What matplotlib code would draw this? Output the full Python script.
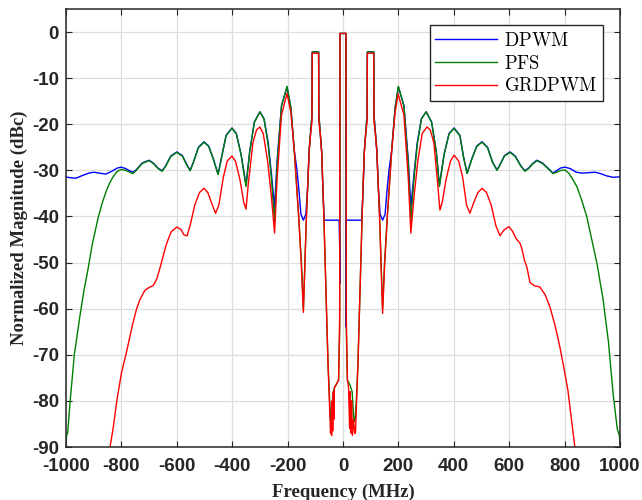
import matplotlib
matplotlib.use("Agg")
import matplotlib.pyplot as plt

plt.rcParams['axes.unicode_minus'] = False
plt.rcParams['mathtext.fontset'] = 'cm'

# DPWM spectrum (MHz, dBc)
dpwm_f = [-1000, -985, -964, -940, -918, -899, -880, -856, -835, -815, -801, -785, -770, -758,
          -745, -725, -700, -685, -668, -653, -640, -622, -600, -580, -565, -552, -540, -522,
          -502, -485, -468, -451, -438, -422, -401, -385, -368, -350, -337, -320, -300, -285,
          -270, -258, -247, -238, -222, -202, -188, -176, -166, -158, -152, -143, -134, -128,
          -122, -116, -112, -111, -88, -87, -82, -77, -72, -68, -14, -12, -11.5, -11,
          10, 10.5, 11, 12, 68, 72, 77, 82, 87, 88,
          111, 112, 116, 122, 128, 134, 143, 152, 158, 166, 176, 188, 200, 220, 236, 245,
          256, 268, 283, 300, 320, 337, 348, 365, 383, 401, 422, 435, 448, 465, 483, 502,
          522, 540, 556, 568, 583, 603, 622, 642, 657, 670, 685, 700, 720, 745, 758, 770,
          785, 801, 820, 842, 863, 885, 910, 930, 952, 975, 1000]
dpwm_v = [-31.4, -31.6, -31.7, -31.1, -30.6, -30.4, -30.6, -30.8, -30.2, -29.5, -29.3, -29.6, -30.1, -30.4,
          -29.8, -28.4, -27.8, -28.4, -29.5, -30.1, -29.0, -26.9, -26.0, -26.8, -28.6, -30.0, -28.2, -25.0,
          -23.8, -24.7, -27.5, -30.8, -27.0, -22.4, -20.8, -22.0, -26.5, -33.2, -26.0, -19.5, -17.3, -18.8,
          -24.0, -31.0, -38.0, -28.0, -16.0, -11.9, -16.5, -25.6, -30.0, -35.0, -39.5, -40.8, -39.5, -34.0,
          -25.6, -21.0, -18.0, -4.3, -4.3, -18.0, -22.0, -26.0, -35.0, -40.8, -40.8, -46.6, -54.5, -0.3,
          -0.3, -32.8, -64.0, -40.8, -40.8, -35.0, -26.0, -22.0, -18.0, -4.3,
          -4.3, -18.0, -21.0, -25.6, -34.0, -39.5, -40.8, -39.5, -35.0, -30.0, -25.6, -16.5, -11.9, -16.0, -28.0, -38.0,
          -31.0, -24.0, -18.8, -17.3, -19.5, -26.0, -33.2, -26.5, -22.0, -20.8, -22.4, -27.0, -30.6, -27.5, -24.7, -23.8,
          -25.0, -28.2, -29.9, -28.6, -26.8, -26.0, -26.9, -29.0, -30.1, -29.5, -28.5, -27.8, -28.4, -29.8, -30.6, -30.1,
          -29.5, -29.3, -29.6, -30.4, -30.6, -30.5, -30.4, -30.7, -31.2, -31.5, -31.4]

# PFS spectrum
pfs_f = [-1000, -998, -994, -985, -970, -950, -935, -921, -905, -884, -870, -856, -843, -830,
         -815, -801, -785, -770, -758, -745, -725, -700, -685, -668, -653, -640, -622, -600,
         -580, -565, -552, -540, -522, -502, -485, -468, -451, -438, -422, -401, -385, -368,
         -350, -337, -320, -300, -285, -270, -258, -247, -238, -222, -202, -188, -176, -160,
         -150, -143, -132, -122, -116, -112, -111, -88, -87, -82, -77, -70, -62, -54, -48,
         -44, -40, -37, -33, -25, -16, -12, -11,
         11, 12, 16, 25, 33, 37, 40, 44, 48, 54, 62, 70, 77, 82, 87, 88,
         111, 112, 116, 122, 132, 143, 150, 160, 176, 188, 200, 220, 236, 245, 256, 268,
         283, 300, 320, 337, 348, 365, 383, 401, 422, 435, 448, 465, 483, 502, 522, 540,
         556, 568, 583, 603, 622, 642, 657, 670, 685, 700, 720, 745, 758, 772, 787, 801,
         815, 830, 845, 862, 880, 900, 917, 939, 958, 975, 990, 995, 998, 1000]
pfs_v = [-90.0, -87.5, -87.0, -80.0, -70.0, -61.7, -56.0, -51.6, -46.0, -40.3, -37.2, -34.7, -32.8, -31.4,
         -30.2, -29.8, -30.0, -30.4, -30.7, -29.9, -28.5, -27.9, -28.5, -29.6, -30.2, -29.1, -27.0, -26.1,
         -26.9, -28.7, -30.1, -28.3, -25.1, -23.9, -24.8, -27.6, -30.9, -27.1, -22.5, -20.9, -22.1, -26.6,
         -33.5, -26.1, -19.6, -17.3, -18.9, -24.5, -32.0, -41.2, -29.0, -16.0, -11.8, -16.5, -25.6, -40.0,
         -50.0, -60.0, -40.0, -25.6, -21.0, -18.0, -4.3, -4.3, -18.0, -22.0, -26.0, -38.0, -55.0, -72.0, -80.0,
         -84.5, -84.0, -79.0, -77.5, -76.5, -75.5, -65.0, -0.3,
         -0.3, -65.0, -75.5, -76.5, -78.0, -82.0, -84.5, -84.0, -80.0, -72.0, -55.0, -38.0, -26.0, -22.0, -18.0, -4.3,
         -4.3, -18.0, -21.0, -25.6, -40.0, -60.0, -50.0, -40.0, -25.6, -16.5, -11.8, -16.0, -29.0, -41.2, -32.0, -24.5,
         -18.9, -17.3, -19.6, -26.1, -33.5, -26.6, -22.1, -20.9, -22.5, -27.1, -30.7, -27.6, -24.8, -23.9, -25.1, -28.3,
         -30.0, -28.7, -26.9, -26.1, -27.0, -29.1, -30.2, -29.6, -28.6, -27.9, -28.5, -29.9, -30.7, -30.4, -30.0, -29.9,
         -30.6, -32.0, -33.6, -36.5, -40.0, -45.5, -50.2, -58.0, -67.0, -78.3, -86.0, -87.0, -87.5, -89.5]

# GRDPWM spectrum
grd_f = [-846, -841, -830, -816, -800, -780, -760, -745, -733, -715, -697, -685, -672, -660,
         -650, -640, -632, -620, -600, -585, -574, -563, -552, -535, -518, -502, -488, -475,
         -460, -448, -432, -418, -401, -388, -372, -358, -350, -342, -325, -312, -300, -288,
         -272, -258, -247, -238, -222, -202, -188, -176, -160, -150, -143, -132, -122, -116,
         -112, -111, -88, -87, -82, -77, -70, -62, -54, -48, -45, -43, -41, -39, -37, -35,
         -33, -31, -25, -16, -12, -11,
         11, 12, 16, 20, 24, 26, 29, 31, 34, 38, 42, 45, 48, 54, 62, 70, 77, 82, 87, 88,
         111, 112, 116, 122, 132, 143, 150, 160, 176, 188, 199, 220, 236, 245, 256, 270,
         286, 303, 315, 328, 342, 350, 358, 372, 388, 401, 418, 432, 446, 458, 472, 487,
         502, 518, 535, 552, 567, 580, 599, 612, 625, 639, 646, 655, 664, 675, 690, 711,
         730, 747, 765, 783, 798, 812, 825, 837, 842]
grd_v = [-92.0, -90.0, -86.0, -79.8, -74.0, -69.0, -63.5, -60.0, -58.0, -56.0, -55.3, -55.0, -53.5, -51.0,
         -48.8, -46.5, -45.1, -43.3, -42.3, -42.8, -44.0, -44.2, -42.0, -37.5, -34.8, -33.9, -34.8, -37.0,
         -39.3, -37.5, -31.5, -28.0, -26.9, -28.0, -32.0, -37.0, -38.4, -33.0, -24.0, -21.2, -20.6, -22.0,
         -28.0, -36.0, -43.6, -32.0, -18.0, -13.3, -17.5, -25.6, -40.0, -51.0, -60.8, -40.0, -25.6, -21.5,
         -19.5, -4.6, -4.6, -19.5, -22.0, -26.0, -38.0, -55.0, -72.0, -82.0, -87.0, -85.0, -87.5, -80.0, -86.5, -78.0,
         -84.0, -77.0, -76.5, -75.5, -62.0, -0.3,
         -0.3, -62.0, -75.5, -77.0, -86.0, -78.0, -87.0, -80.0, -87.5, -84.0, -87.0, -87.0, -82.0, -72.0, -55.0, -38.0, -26.0, -22.0, -19.5, -4.6,
         -4.6, -19.5, -21.5, -25.6, -40.0, -61.0, -51.0, -40.0, -25.6, -17.5, -13.4, -18.0, -32.0, -43.6, -36.0, -28.0,
         -22.0, -20.6, -21.2, -24.0, -33.0, -38.6, -37.0, -32.0, -28.0, -26.7, -28.0, -31.5, -37.5, -39.3, -37.0, -34.8,
         -33.9, -34.8, -37.5, -42.0, -44.2, -43.0, -42.2, -43.2, -44.8, -45.8, -47.0, -49.5, -51.0, -54.3, -55.0, -55.3,
         -57.0, -59.6, -63.5, -68.3, -73.0, -77.7, -84.0, -90.0, -92.0]

fig = plt.figure(figsize=(6.42, 5.0), dpi=100)
ax = fig.add_axes([0.1028, 0.106, 0.8629, 0.876])

ax.plot(dpwm_f, dpwm_v, color=(0, 0, 1), lw=1.0, label=r'$\mathrm{DPWM}$')
ax.plot(pfs_f, pfs_v, color=(0, 0.5, 0), lw=1.0, label=r'$\mathrm{PFS}$')
ax.plot(grd_f, grd_v, color=(1, 0, 0), lw=1.0, label=r'$\mathrm{GRDPWM}$')

ax.set_xlim(-1000, 1000)
ax.set_ylim(-90, 5)
ax.set_xticks(range(-1000, 1001, 200))
ax.set_yticks(range(-90, 1, 10))
ax.grid(True, color=(0.87, 0.87, 0.87), lw=0.9)
ax.set_axisbelow(True)

dark = (0.15, 0.15, 0.15)
for s in ax.spines.values():
    s.set_color(dark)
    s.set_linewidth(1.1)
ax.tick_params(direction='in', length=4, width=0.8, top=True, right=True, colors=dark,
               labelsize=13.5)
ax.tick_params(axis='x', pad=8)
ax.tick_params(axis='y', pad=5)
for lab in ax.get_xticklabels() + ax.get_yticklabels():
    lab.set_fontfamily('Liberation Sans')
    lab.set_fontweight('bold')

ax.set_xlabel('Frequency (MHz)', fontfamily='Liberation Serif', fontweight='bold', fontsize=13.5,
              labelpad=6, color=dark)
ax.set_ylabel('Normalized Magnitude (dBc)', fontfamily='Liberation Serif', fontweight='bold',
              fontsize=13.5, labelpad=3, color=dark)

leg = ax.legend(loc='upper right', bbox_to_anchor=(0.969, 0.963), borderaxespad=0,
                fontsize=13.5, handlelength=3.3, handletextpad=0.35, labelspacing=0.2,
                fancybox=False, framealpha=1, edgecolor=dark, borderpad=0.3)
leg.get_frame().set_linewidth(1.0)

fig.savefig('out.png', dpi=100)
